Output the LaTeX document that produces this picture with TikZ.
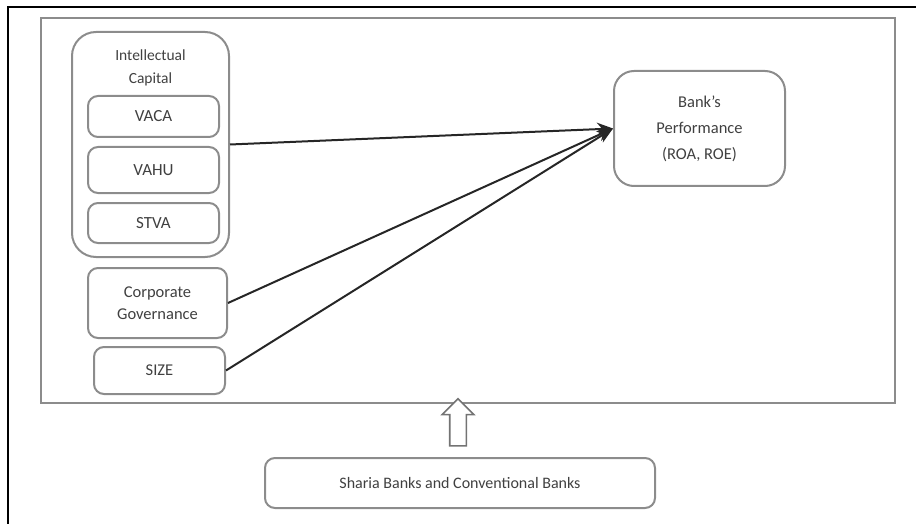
\documentclass[tikz,border=0pt]{standalone}
\usepackage{fontspec}
\setmainfont{Carlito}
\usetikzlibrary{arrows.meta}
\usetikzlibrary{shapes.arrows}

\begin{document}
\begin{tikzpicture}[x=1pt, y=-1pt,
		box/.style={draw=black!45, line width=2pt, rounded corners=10pt, inner sep=0pt, align=center, text=black!75, font=\fontsize{16.5}{22}\selectfont},
		link/.style={draw=black!85, line width=2pt, -{Stealth[length=16pt, width=13pt]}}]
	\useasboundingbox (0,0) rectangle (916,524);
	\draw[line width=1.5pt] (916,7) -- (8,7) -- (8,524);
	\node[draw=black!45, line width=2pt, minimum width=854pt, minimum height=385pt] (frame) at (468,210.5) {};
	
	\node[box, rounded corners=24pt, minimum width=157pt, minimum height=225pt] (ic) at (150.5,144.5) {};
	\node[align=center, text=black!75, font=\fontsize{15.5}{23}\selectfont] (iclabel) at (150.5,68) {Intellectual\\Capital};
	\node[box, minimum width=131pt, minimum height=41pt, font=\fontsize{17}{22}\selectfont] (vaca) at (153.5,116.5) {VACA};
	\node[box, minimum width=131pt, minimum height=46pt, font=\fontsize{17}{22}\selectfont] (vahu) at (153.5,170) {VAHU};
	\node[box, minimum width=131pt, minimum height=40pt, font=\fontsize{17}{22}\selectfont] (stva) at (153.5,223) {STVA};
	\node[box, minimum width=139pt, minimum height=70pt] (cg) at (157.5,303) {Corporate\\Governance};
	\node[box, minimum width=131pt, minimum height=47pt] (size) at (159.5,370.5) {SIZE};
	\node[box, rounded corners=20pt, minimum width=171pt, minimum height=115pt, font=\fontsize{16.5}{26}\selectfont] (perf) at (699.5,128.5) {Bank's\\Performance\\(ROA, ROE)};
	\node[box, minimum width=390pt, minimum height=50pt, font=\fontsize{16}{22}\selectfont] (banks) at (460,483) {Sharia Banks and Conventional Banks};
	
	\draw[link] (ic.east) -- (perf.west);
	\draw[link] (cg.east) -- (perf.west);
	\draw[link] (size.east) -- (perf.west);
	\node[single arrow, draw=black!55, line width=1.6pt, fill=white, rotate=90, inner xsep=0pt, inner ysep=7.5pt, minimum height=47pt, minimum width=30pt, single arrow head extend=7.5pt] (up) at (458,426.5) {};
\end{tikzpicture}
\end{document}
